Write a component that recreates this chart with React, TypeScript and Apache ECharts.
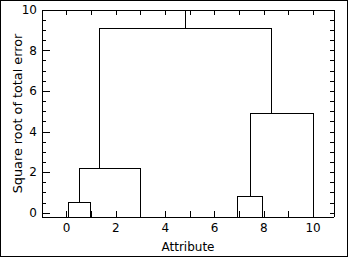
import React, { useEffect, useRef } from "react";
import * as echarts from "echarts";

// Leaf positions along the attribute axis
const leafPositions = [0.07, 0.97, 3, 6.95, 7.96, 10];
// Merge steps: child ids (ids >= leaf count refer to earlier merges) and merge heights
const mergeLeft = [0, 6, 3, 8, 7];
const mergeRight = [1, 2, 4, 5, 9];
const mergeHeights = [0.5, 2.17, 0.79, 4.9, 9.1];
// Tick label values
const xLabelValues = [0, 2, 4, 6, 8, 10];
const yLabelValues = [0, 2, 4, 6, 8, 10];

const X_MIN = -1;
const X_MAX = 10.85;
const Y_MIN = -0.2;
const Y_MAX = 10;

const FONT = "DejaVu Sans";

function buildSegments() {
  const nx: number[] = [];
  const ny: number[] = [];
  const nl: number[][] = [];
  leafPositions.forEach((p, i) => {
    nx.push(p);
    ny.push(Y_MIN);
    nl.push([i]);
  });
  const segs: { coords: number[][] }[] = [];
  mergeHeights.forEach((h, k) => {
    const a = mergeLeft[k];
    const b = mergeRight[k];
    segs.push({
      coords: [
        [nx[a], ny[a]],
        [nx[a], h],
        [nx[b], h],
        [nx[b], ny[b]],
      ],
    });
    const leaves = nl[a].concat(nl[b]);
    const cx = leaves.reduce((s, i) => s + leafPositions[i], 0) / leaves.length;
    nx.push(cx);
    ny.push(h);
    nl.push(leaves);
  });
  const root = nx.length - 1;
  segs.push({ coords: [[nx[root], ny[root]], [nx[root], Y_MAX]] });
  return segs;
}

const isIn = (arr: number[], v: number) => arr.some((a) => Math.abs(a - v) < 1e-6);

export default function App() {
  const ref = useRef<HTMLDivElement>(null);
  useEffect(() => {
    if (!ref.current) return;
    const chart = echarts.init(ref.current, undefined, { renderer: "svg" });
    const black = "#000";
    const labelStyle = { color: black, fontSize: 12, fontFamily: FONT };
    const baseX = {
      type: "value" as const,
      min: X_MIN,
      max: X_MAX,
      interval: 1,
      splitLine: { show: false },
      axisLine: { show: true, onZero: false, lineStyle: { color: black, width: 1 } },
    };
    const baseY = {
      type: "value" as const,
      min: Y_MIN,
      max: Y_MAX,
      splitLine: { show: false },
      axisLine: { show: true, onZero: false, lineStyle: { color: black, width: 1 } },
    };
    chart.setOption({
      animation: false,
      backgroundColor: "#fff",
      grid: { left: 42, right: 15, top: 10, bottom: 41, containLabel: false, outerBoundsMode: "none" },
      xAxis: [
        {
          ...baseX,
          position: "bottom",
          axisTick: { show: true, inside: true, length: 6, lineStyle: { color: black } },
          axisLabel: {
            ...labelStyle,
            margin: 5,
            formatter: (v: number) => (isIn(xLabelValues, v) ? String(Math.round(v)) : ""),
          },
          name: "Attribute",
          nameLocation: "middle",
          nameGap: 24,
          nameTextStyle: { ...labelStyle },
        },
        {
          ...baseX,
          position: "top",
          axisTick: { show: true, inside: true, length: 5, lineStyle: { color: black } },
          axisLabel: { show: false },
        },
      ],
      yAxis: [
        {
          ...baseY,
          position: "left",
          splitNumber: 5,
          minInterval: 2,
          maxInterval: 2,
          axisTick: { show: true, inside: true, length: 8, lineStyle: { color: black } },
          axisLabel: {
            ...labelStyle,
            margin: 5,
            formatter: (v: number) => (isIn(yLabelValues, v) ? String(Math.round(v)) : ""),
          },
          name: "Square root of total error",
          nameLocation: "middle",
          nameRotate: 90,
          nameGap: 18,
          nameMoveOverlap: false,
          nameTextStyle: { ...labelStyle, fontSize: 12.8 },
        },
        {
          ...baseY,
          position: "left",
          splitNumber: 20,
          minInterval: 0.5,
          maxInterval: 0.5,
          axisLine: { show: false, onZero: false },
          axisTick: { show: true, inside: true, length: 4, lineStyle: { color: black } },
          axisLabel: { show: false },
        },
        {
          ...baseY,
          position: "right",
          splitNumber: 20,
          minInterval: 0.5,
          maxInterval: 0.5,
          axisTick: { show: true, inside: true, length: 4, lineStyle: { color: black } },
          axisLabel: { show: false },
        },
      ],
      graphic: [
        {
          type: "rect",
          shape: { x: 0.5, y: 0.5, width: 347, height: 256 },
          style: { fill: "none", stroke: black, lineWidth: 1 },
          silent: true,
        },
      ],
      series: [
        {
          type: "lines",
          coordinateSystem: "cartesian2d",
          xAxisIndex: 0,
          yAxisIndex: 0,
          polyline: true,
          lineStyle: { color: black, width: 1, opacity: 1 },
          data: buildSegments(),
          silent: true,
        },
      ],
    });
    return () => chart.dispose();
  }, []);
  return (
    <>
      <style>{`body{margin:0} #root svg path{shape-rendering:crispEdges}`}</style>
      <div
        ref={ref}
        style={{ position: "absolute", left: 0, top: 0, width: 349, height: 258, background: "#fff" }}
      />
    </>
  );
}
